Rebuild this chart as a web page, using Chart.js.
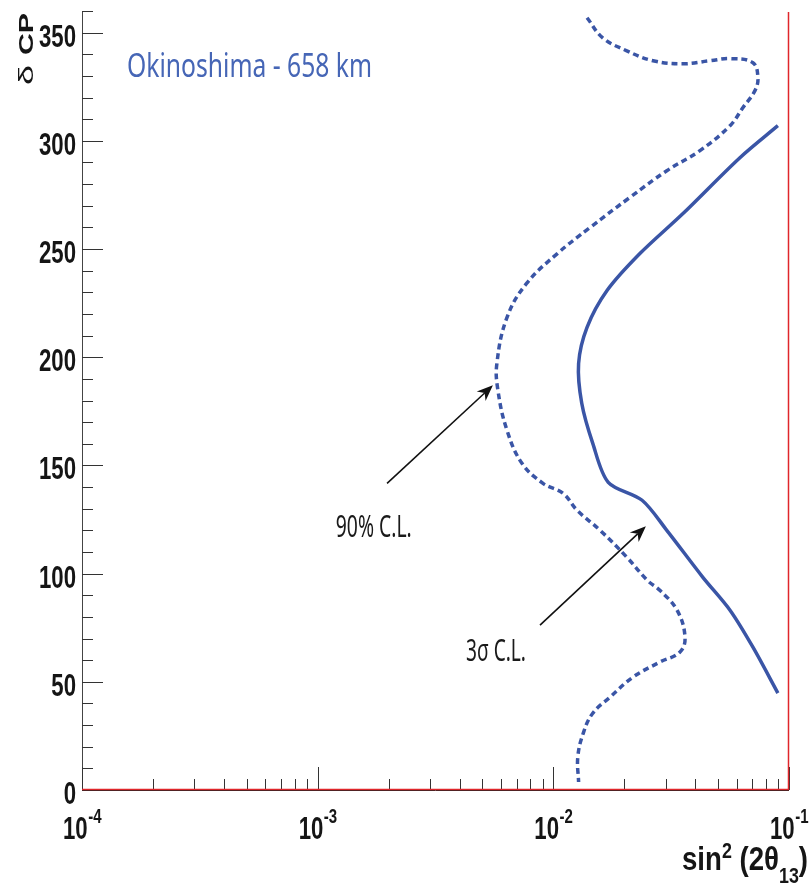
<!DOCTYPE html>
<html><head><meta charset="utf-8">
<script src="https://cdn.jsdelivr.net/npm/chart.js@4.4.1/dist/chart.umd.min.js"></script>
<style>html,body{margin:0;padding:0;background:#fff;}canvas{display:block;}</style>
</head><body>
<canvas id="c" width="809" height="885"></canvas>
<script>
// 90% C.L. contour (dashed): sin^2(2theta13), deltaCP
const cl90X = [0.0139,0.0162,0.0205,0.0265,0.0355,0.0462,0.0562,0.0703,0.0738,0.0717,0.0637,0.0562,0.0419,0.0303,0.0211,0.0143,0.0104,0.0077,0.00636,0.00576,0.00582,0.00636,0.00736,0.00904,0.0110,0.0126,0.0158,0.0205,0.0250,0.0283,0.0335,0.0362,0.0344,0.0283,0.0218,0.0174,0.0147,0.0134,0.0127,0.0128];
const cl90Y = [356.9,347.6,341.6,337.0,335.6,337.0,338.0,336.1,329.2,323.2,315.3,307.0,295.5,286.2,273.8,259.9,247.9,234.1,218.4,197.1,184.7,166.2,151.0,141.7,137.1,129.3,120.0,107.6,97.0,92.3,83.1,70.6,63.7,59.1,52.2,42.9,35.5,26.3,15.2,3.7];
// 3 sigma C.L. contour (solid)
const cl3sX = [0.0897,0.0619,0.0355,0.0233,0.0169,0.0139,0.0128,0.0132,0.0147,0.0171,0.0238,0.0303,0.0431,0.0562,0.0703,0.0897];
const cl3sY = [307.0,292.2,266.4,247.9,230.8,213.8,197.1,178.7,160.2,142.2,133.9,120.0,98.3,83.1,66.0,44.8];
// axes
const yTickValues = [0,50,100,150,200,250,300,350];
const xTickExponents = [-4,-3,-2,-1];
const titleText = 'Okinoshima - 658 km';
const labels = [
  {text:'90% C.L.', at:[0.00173,121.0], width:76, arrowFrom:[0.00197,141.7], arrowTo:[0.00554,187.0]},
  {text:'3\u03c3 C.L.', at:[0.00571,63.5], width:60, arrowFrom:[0.00878,76.2], arrowTo:[0.0247,121.9]}
];

const BLUE = '#3a55a6';
const toPts = (xs, ys) => xs.map((x, i) => ({x: x, y: ys[i]}));

function fitText(ctx, text, x, y, font, width, align) {
  ctx.save();
  ctx.font = font;
  const w = ctx.measureText(text).width;
  const s = width / w;
  let x0 = x;
  if (align === 'center') x0 = x - width / 2;
  else if (align === 'right') x0 = x - width;
  ctx.translate(x0, y);
  ctx.scale(s, 1);
  ctx.textAlign = 'left';
  ctx.fillText(text, 0, 0);
  ctx.restore();
}

function arrow(ctx, x1, y1, x2, y2) {
  const a = Math.atan2(y2 - y1, x2 - x1);
  const L = 16, H = 6.5;
  ctx.save();
  ctx.strokeStyle = '#111'; ctx.fillStyle = '#111'; ctx.lineWidth = 1.6;
  ctx.beginPath();
  ctx.moveTo(x1, y1);
  ctx.lineTo(x2 - Math.cos(a) * L * 0.7, y2 - Math.sin(a) * L * 0.7);
  ctx.stroke();
  ctx.beginPath();
  ctx.moveTo(x2, y2);
  ctx.lineTo(x2 - Math.cos(a) * L + Math.sin(a) * H, y2 - Math.sin(a) * L - Math.cos(a) * H);
  ctx.lineTo(x2 - Math.cos(a) * L * 0.7, y2 - Math.sin(a) * L * 0.7);
  ctx.lineTo(x2 - Math.cos(a) * L - Math.sin(a) * H, y2 - Math.sin(a) * L + Math.cos(a) * H);
  ctx.closePath();
  ctx.fill();
  ctx.restore();
}

const decor = {
  id: 'decor',
  afterDraw(chart) {
    const ctx = chart.ctx;
    const xs = chart.scales.x, ys = chart.scales.y;
    const ca = chart.chartArea;
    const L = ca.left, R = ca.right, T = ca.top, B = ca.bottom;

    ctx.save();
    ctx.strokeStyle = '#444'; ctx.lineWidth = 1;
    ctx.beginPath(); ctx.moveTo(L + 0.5, T); ctx.lineTo(L + 0.5, B); ctx.stroke();

    ctx.strokeStyle = '#333'; ctx.lineWidth = 1;
    for (let v = 0; v <= 360; v += 10) {
      const py = Math.round(ys.getPixelForValue(v)) + 0.5;
      const len = (v % 50 === 0) ? 21 : 11;
      ctx.beginPath(); ctx.moveTo(L, py); ctx.lineTo(L + len, py); ctx.stroke();
    }
    for (let e = -4; e <= -1; e++) {
      const d = Math.pow(10, e);
      const px = Math.round(xs.getPixelForValue(d)) + 0.5;
      ctx.beginPath(); ctx.moveTo(px, B); ctx.lineTo(px, B - 23); ctx.stroke();
      if (e < -1) {
        for (let m = 2; m <= 9; m++) {
          const qx = Math.round(xs.getPixelForValue(m * d)) + 0.5;
          ctx.beginPath(); ctx.moveTo(qx, B); ctx.lineTo(qx, B - 11); ctx.stroke();
        }
      }
    }
    ctx.strokeStyle = '#222'; ctx.lineWidth = 1;
    ctx.beginPath(); ctx.moveTo(L, B + 0.5); ctx.lineTo(R, B + 0.5); ctx.stroke();
    ctx.strokeStyle = '#e0262b'; ctx.lineWidth = 1.5;
    ctx.beginPath(); ctx.moveTo(L, B - 0.5); ctx.lineTo(R, B - 0.5); ctx.stroke();
    ctx.beginPath(); ctx.moveTo(R - 0.5, T + 1); ctx.lineTo(R - 0.5, B); ctx.stroke();
    ctx.restore();

    ctx.save();
    ctx.fillStyle = '#151515';
    ctx.textBaseline = 'alphabetic';
    const bigFont = 'bold 31px "Liberation Sans", Arial, sans-serif';
    ctx.font = bigFont;
    const sc = 37 / ctx.measureText('350').width;
    yTickValues.forEach(v => {
      const py = ys.getPixelForValue(v);
      const t = String(v);
      ctx.font = bigFont;
      fitText(ctx, t, L - 6, py + 14, bigFont, ctx.measureText(t).width * sc, 'right');
    });
    const supFont = 'bold 21px "Liberation Sans", Arial, sans-serif';
    xTickExponents.forEach(e => {
      const px = xs.getPixelForValue(Math.pow(10, e));
      ctx.font = bigFont; const w1 = ctx.measureText('10').width * sc;
      const st = '-' + String(-e);
      ctx.font = supFont; const w2 = ctx.measureText(st).width * sc;
      const x0 = px - (w1 + w2) / 2;
      fitText(ctx, '10', x0, B + 49, bigFont, w1, 'left');
      fitText(ctx, st, x0 + w1 + 0.5, B + 33, supFont, w2, 'left');
    });

    const tf = 'bold 34px "Liberation Sans", Arial, sans-serif';
    const tfs = 'bold 22px "Liberation Sans", Arial, sans-serif';
    const parts = [
      {t:'sin', f:tf, dy:0}, {t:'2', f:tfs, dy:-12}, {t:' (2\u03b8', f:tf, dy:0},
      {t:'13', f:tfs, dy:13}, {t:')', f:tf, dy:0}
    ];
    let tot = 0;
    parts.forEach(p => { ctx.font = p.f; p.w = ctx.measureText(p.t).width; tot += p.w; });
    const ts = 126 / tot;
    let cx = 682;
    parts.forEach(p => { fitText(ctx, p.t, cx, 870 + p.dy, p.f, p.w * ts, 'left'); cx += p.w * ts; });

    ctx.save();
    ctx.translate(33, 85);
    ctx.rotate(-Math.PI / 2);
    const df = '21px "Liberation Sans", Arial, sans-serif';
    const cf = 'bold 21px "Liberation Sans", Arial, sans-serif';
    fitText(ctx, '\u03b4', 0, 0, df, 20, 'left');
    fitText(ctx, 'CP', 30, 0, cf, 42, 'left');
    ctx.restore();

    ctx.fillStyle = '#4666b6';
    fitText(ctx, titleText, L + 45, T + 66, '33px "Noto Sans", "Open Sans", sans-serif', 245, 'left');

    ctx.fillStyle = '#1a1a1a';
    labels.forEach(lb => {
      arrow(ctx, xs.getPixelForValue(lb.arrowFrom[0]), ys.getPixelForValue(lb.arrowFrom[1]),
                 xs.getPixelForValue(lb.arrowTo[0]), ys.getPixelForValue(lb.arrowTo[1]));
      const tx = xs.getPixelForValue(lb.at[0]), ty = ys.getPixelForValue(lb.at[1]);
      ctx.textBaseline = 'middle';
      fitText(ctx, lb.text, tx, ty, '31px "Noto Sans", "Open Sans", sans-serif', lb.width, 'center');
    });
    ctx.restore();
  }
};

const axisOpts = {
  display: true,
  grid: {display: false, drawTicks: false},
  border: {display: false},
  ticks: {display: false}
};

new Chart(document.getElementById('c'), {
  type: 'scatter',
  data: {
    datasets: [
      {label: '90% C.L.', data: toPts(cl90X, cl90Y), showLine: true, borderColor: BLUE,
       borderWidth: 3.5, borderDash: [6, 4], pointRadius: 0, tension: 0.4, fill: false},
      {label: '3\u03c3 C.L.', data: toPts(cl3sX, cl3sY), showLine: true, borderColor: BLUE,
       borderWidth: 3.5, pointRadius: 0, tension: 0.3, fill: false}
    ]
  },
  options: {
    responsive: false,
    animation: false,
    devicePixelRatio: 1,
    layout: {padding: {left: 82, top: 11, right: 20, bottom: 95}},
    plugins: {legend: {display: false}, tooltip: {enabled: false}},
    scales: {
      x: Object.assign({type: 'logarithmic', min: 1e-4, max: 0.1}, axisOpts),
      y: Object.assign({type: 'linear', min: 0, max: 360}, axisOpts)
    }
  },
  plugins: [decor]
});
</script>
</body></html>
